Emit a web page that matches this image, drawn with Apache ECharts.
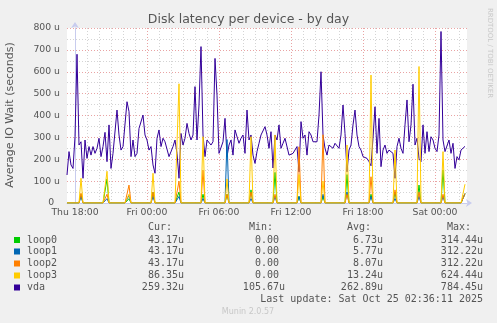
<!DOCTYPE html>
<html>
<head>
<meta charset="utf-8">
<script src="https://cdn.jsdelivr.net/npm/echarts@6/dist/echarts.min.js"></script>
<style>
html,body{margin:0;padding:0;background:#f0f0f0;}
#chart{width:497px;height:323px;}
</style>
</head>
<body>
<div id="chart"></div>
<script>
// ---- data (sample every 10 minutes, first sample at Thu 17:20 = -40 min from Thu 18:00) ----
const startMin = -40;
const stepMin = 10;
const vda = [
 128,235,174,158,303,680,265,280,113,288, 204,258,219,258,227,250,296,212,258,323,
 189,357,158,227,219,425,311,242,258,265, 463,418,212,288,212,227,341,349,402,311,
 288,242,258,174,136,296,334,258,296,280,
 273,212,235,258,288,227,113,318,265,296, 364,318,288,311,532,288,448,715,311,212,
 288,280,265,280,661,493,227,235,280,387, 212,265,288,219,334,326,273,296,311,227,
 425,288,311,219,181,235,273,311,303,349,
 311,250,326,160,311,288,357,250,273,296, 288,219,219,227,235,258,143,372,296,311,
 219,326,311,280,273,280,402,600,311,250, 219,265,258,250,273,265,250,311,448,318,
 143,242,265,357,425,311,258,242,212,219,
 204,189,170,296,440,227,387,166,242,265, 227,242,242,227,113,258,296,250,227,357,
 471,280,357,543,265,296,204,189,357,227, 326,235,303,288,250,235,311,784,288,235,
 227,288,227,273,158,212,197,242,242,259
];
// loop devices are 0 except at these sample indices
const spikeIdx = [7,20,31,43,56,68,80,92,104,116,128,140,152,164,176,188,199];
const loop0Peaks = [40,110,20,50,50,40,40,60,140,30,30,130,40,50,82,151,43];
const loop1Peaks = [30,20,35,30,30,20,290,20,30,30,40,50,30,20,30,30,43];
const loop2Peaks = [45,40,82,50,100,150,40,50,40,257,312,40,120,60,50,40,43];
const loop3Peaks = [113,145,40,136,545,303,110,303,311,130,100,265,585,242,624,235,86];

const seriesNames = ['loop0','loop1','loop2','loop3','vda'];
const seriesColors = ['#00cc00','#0066b3','#ff8000','#ffcc00','#330099'];
const curVals = ['43.17u','43.17u','43.17u','86.35u','259.32u'];
const minVals = ['0.00 ','0.00 ','0.00 ','0.00 ','105.67u'];
const avgVals = ['6.73u','5.77u','8.07u','13.24u','262.89u'];
const maxVals = ['314.44u','312.22u','312.22u','624.44u','784.45u'];

const xLabelValues = [0,360,720,1080,1440,1800];
const xLabelTexts = ['Thu 18:00','Fri 00:00','Fri 06:00','Fri 12:00','Fri 18:00','Sat 00:00'];
const hourTicks = [0,60,120,180,240,300,360,420,480,540,600,660,720,780,840,900,960,1020,1080,1140,1200,1260,1320,1380,1440,1500,1560,1620,1680,1740,1800,1860,1920];

// ---- build ----
function toPairs(arr){ return arr.map((v,i)=>[startMin + i*stepMin, v]); }
function loopSeries(peaks){
  const arr = vda.map(()=>0);
  spikeIdx.forEach((k,j)=>{ arr[k] = peaks[j]; });
  return toPairs(arr);
}
const loopData = [loopSeries(loop0Peaks), loopSeries(loop1Peaks), loopSeries(loop2Peaks), loopSeries(loop3Peaks)];
const allData = loopData.concat([toPairs(vda)]);

const TXT = '#555';
const MONO = '"DejaVu Sans Mono", monospace';
const SANS = '"DejaVu Sans", sans-serif';

const chart = echarts.init(document.getElementById('chart'), null, {renderer:'canvas'});

const zOrder = [4,5,6,7,3]; // loops drawn above vda
const series = [4,0,1,2,3].map(i => ({
  name: seriesNames[i],
  type: 'line',
  data: allData[i],
  showSymbol: false,
  symbol: 'none',
  lineStyle: {width: 1, color: seriesColors[i]},
  itemStyle: {color: seriesColors[i]},
  z: zOrder[i],
  animation: false
}));

const graphics = [];
graphics.push({type:'text', left:'center', top: 13, style:{text:'Disk latency per device - by day', font:'12.5px '+SANS, fill:TXT}});
graphics.push({type:'text', x:10, y:115, rotation:Math.PI/2, style:{text:'Average IO Wait (seconds)', font:'11px '+SANS, fill:TXT, align:'center', verticalAlign:'middle'}});
graphics.push({type:'text', x:490, y:53, rotation:-Math.PI/2, style:{text:'RRDTOOL / TOBI OETIKER', font:'7px '+SANS, fill:'#c8c8c8', align:'center', verticalAlign:'middle'}});

const headerY = 227;
const rowY = [240, 251.5, 263.5, 275.5, 287.5];
const colRight = [184, 285, 383, 483];
const headers = ['Cur:','Min:','Avg:','Max:'];
headers.forEach((h,j)=>{
  graphics.push({type:'text', x: colRight[j]-12, y: headerY, style:{text:h, font:'10px '+MONO, fill:TXT, align:'right', verticalAlign:'middle'}});
});
const cols = [curVals, minVals, avgVals, maxVals];
seriesNames.forEach((n,i)=>{
  graphics.push({type:'rect', shape:{x:14, y:rowY[i]-3, width:6, height:6}, style:{fill:seriesColors[i]}});
  graphics.push({type:'text', x:27, y:rowY[i], style:{text:n, font:'10px '+MONO, fill:TXT, align:'left', verticalAlign:'middle'}});
  cols.forEach((c,j)=>{
    graphics.push({type:'text', x:colRight[j], y:rowY[i], style:{text:c[i], font:'10px '+MONO, fill:TXT, align:'right', verticalAlign:'middle'}});
  });
});
graphics.push({type:'text', x:483, y:299, style:{text:'Last update: Sat Oct 25 02:36:11 2025', font:'10px '+MONO, fill:TXT, align:'right', verticalAlign:'middle'}});
graphics.push({type:'text', x:248, y:312, style:{text:'Munin 2.0.57', font:'8px '+SANS, fill:'#c8c8c8', align:'center', verticalAlign:'middle'}});

const majorGrid = '#e9a3a3';
const minorGrid = '#d4d4d4';

chart.setOption({
  backgroundColor: '#f0f0f0',
  animation: false,
  grid: {left:67, right:30, top:28, bottom:120, show:true, backgroundColor:'#ffffff', borderWidth:0},
  xAxis: {
    type:'value', min:-40, max:1960,
    axisLine:{show:true, lineStyle:{color:'#c8ccee', width:1}, symbol:['none','arrow'], symbolSize:[6,6], symbolOffset:[0,5]},
    axisTick:{show:false, customValues: hourTicks},
    axisLabel:{customValues: xLabelValues, formatter: v => xLabelTexts[xLabelValues.indexOf(v)] || '', color:TXT, fontFamily:'DejaVu Sans', fontSize:9.3, margin:5},
    splitLine:{show:true, lineStyle:{color:[majorGrid, minorGrid, minorGrid, minorGrid, minorGrid, minorGrid], type:[1,2], width:1}}
  },
  yAxis: {
    type:'value', min:0, max:800, interval:100,
    axisLine:{show:true, lineStyle:{color:'#c8ccee', width:1}, symbol:['none','arrow'], symbolSize:[6,6], symbolOffset:[0,6]},
    axisTick:{show:false},
    axisLabel:{formatter: v => v===0 ? '0  ' : v + ' u', color:TXT, fontFamily:'DejaVu Sans', fontSize:9.3, margin:7},
    splitLine:{show:true, lineStyle:{color:majorGrid, type:[1,2], width:1}},
    minorTick:{show:false, splitNumber:2},
    minorSplitLine:{show:true, lineStyle:{color:minorGrid, type:[1,2], width:1}}
  },
  series: series,
  graphic: graphics
});
</script>
</body>
</html>
